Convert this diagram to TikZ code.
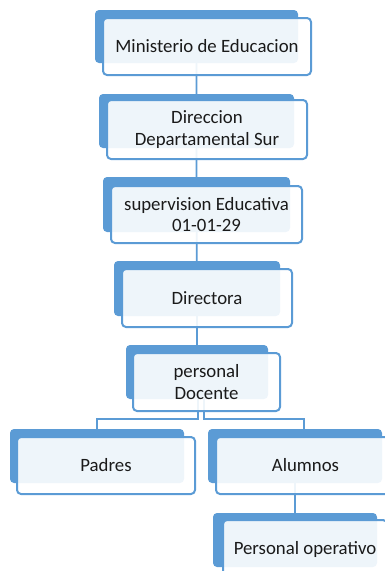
\documentclass[tikz,border=0pt]{standalone}
\usepackage{fontspec}
\setmainfont{Carlito}
\usetikzlibrary{positioning, backgrounds}
\definecolor{orgblue}{HTML}{5B9BD5}
\definecolor{orgtext}{HTML}{1A1A1A}

\begin{document}
\begin{tikzpicture}[x=1pt, y=-1pt,
    back/.style={fill=orgblue, rounded corners=4pt, inner sep=0pt},
    front/.style={fill=white, fill opacity=0.9, text opacity=1, draw=orgblue, line width=2pt,
        rounded corners=4pt, text=orgtext, align=center, inner sep=0pt,
        font=\fontsize{18.8}{21.5}\selectfont},
    conn/.style={draw=orgblue, line width=1.8pt}]
        \useasboundingbox (0,0) rectangle (385,571);
        \clip (0,0) rectangle (385,571);
        \coordinate (bar) at (0,419);
        % back plates
        \node[back, minimum width=203pt, minimum height=53pt] (ministerioB) at (196.5,36.5) {};
        \node[back, minimum width=195pt, minimum height=54pt] (direccionB) at (196.5,121) {};
        \node[back, minimum width=187pt, minimum height=55pt] (supervisionB) at (196.5,204.5) {};
        \node[back, minimum width=166pt, minimum height=55pt] (directoraB) at (197,288.5) {};
        \node[back, minimum width=142pt, minimum height=54pt] (docenteB) at (197,372) {};
        \node[back, minimum width=174pt, minimum height=54pt] (padresB) at (97,456) {};
        \node[back, minimum width=174pt, minimum height=54pt] (alumnosB) at (295,456) {};
        \node[back, minimum width=164pt, minimum height=54pt] (operativoB) at (295,540) {};
        % front boxes
        \node[front, minimum width=208pt, minimum height=57pt] (ministerio) at (207,46.5) {Ministerio de Educacion};
        \node[front, minimum width=200pt, minimum height=59pt] (direccion) at (207,129.5) {Direccion\\Departamental Sur};
        \node[front, minimum width=191pt, minimum height=57pt] (supervision) at (206.5,214.5) {supervision Educativa\\01-01-29};
        \node[front, minimum width=170pt, minimum height=58pt] (directora) at (207,298) {Directora};
        \node[front, minimum width=147pt, minimum height=58pt] (docente) at (206.5,382) {personal\\Docente};
        \node[front, minimum width=178pt, minimum height=57pt] (padres) at (106,465.5) {Padres};
        \node[front, minimum width=179pt, minimum height=57pt] (alumnos) at (305.5,465.5) {Alumnos};
        \node[front, minimum width=164pt, minimum height=58pt] (operativo) at (305,549) {Personal operativo};
        \begin{scope}[on background layer]
        \draw[conn] (ministerioB.center) -- (direccionB.center) -- (supervisionB.center)
            -- (directoraB.center) -- (docenteB.center);
        \draw[conn] ([xshift=1pt]docenteB.center) -- ([xshift=1pt]docenteB.center |- bar) -| (padresB.center);
        \draw[conn] ([xshift=7pt]docenteB.center) -- ([xshift=7pt]docenteB.center |- bar) -| ([xshift=9pt]alumnosB.center);
        \draw[conn] (alumnosB.center) -- (operativoB.center);
        \end{scope}
    \end{tikzpicture}
\end{document}
